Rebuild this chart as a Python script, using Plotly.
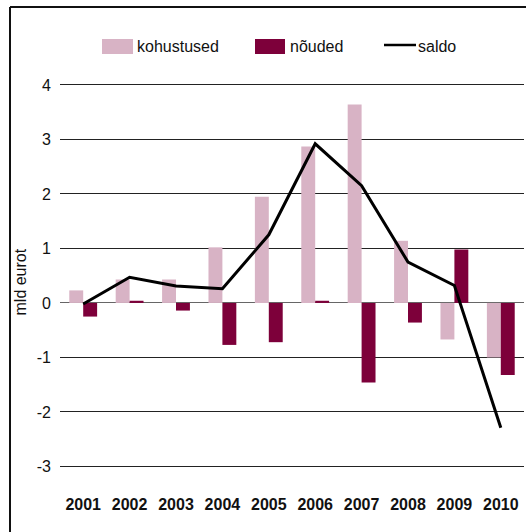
import plotly.graph_objects as go

years = ["2001", "2002", "2003", "2004", "2005", "2006", "2007", "2008", "2009", "2010"]
kohustused = [0.23, 0.43, 0.43, 1.02, 1.95, 2.87, 3.64, 1.14, -0.67, -1.00]
nouded = [-0.25, 0.04, -0.14, -0.77, -0.72, 0.04, -1.46, -0.36, 0.98, -1.32]
saldo = [-0.02, 0.47, 0.31, 0.26, 1.25, 2.92, 2.15, 0.75, 0.32, -2.29]
y_ticks = [-3, -2, -1, 0, 1, 2, 3, 4]
y_tick_text = ["-3", "-2", "-1", "0", "1", "2", "3", "4"]

W, H = 526, 532
L, R, T, B = 60, 2, 74, 41
PW, PH = W - L - R, H - T - B

def px(x):
    return (x - L) / PW

def py(y):
    return (H - B - y) / PH

C_K = "#D8B3C5"
C_N = "#7D003A"
FONT = "Liberation Sans, Arial, sans-serif"

fig = go.Figure()
fig.add_trace(go.Bar(x=years, y=kohustused, name="kohustused", marker_color=C_K, marker_line_width=0))
fig.add_trace(go.Bar(x=years, y=nouded, name="nõuded", marker_color=C_N, marker_line_width=0))
fig.add_trace(go.Scatter(x=years, y=saldo, name="saldo", mode="lines",
                         line=dict(color="black", width=3)))

shapes = []
annotations = []
# frame (left and top)
shapes.append(dict(type="line", xref="paper", yref="paper", x0=px(10), x1=px(10), y0=py(7), y1=py(540),
                   line=dict(color="#111", width=2)))
shapes.append(dict(type="line", xref="paper", yref="paper", x0=px(10), x1=px(540), y0=py(7), y1=py(7),
                   line=dict(color="#111", width=2)))
# custom legend
shapes.append(dict(type="rect", xref="paper", yref="paper", x0=px(102), x1=px(133), y0=py(39), y1=py(54),
                   fillcolor=C_K, line=dict(width=0)))
shapes.append(dict(type="rect", xref="paper", yref="paper", x0=px(255), x1=px(285), y0=py(39), y1=py(54),
                   fillcolor=C_N, line=dict(width=0)))
shapes.append(dict(type="line", xref="paper", yref="paper", x0=px(384), x1=px(416), y0=py(45), y1=py(45),
                   line=dict(color="black", width=2.5)))
for xx, txt in [(135, "kohustused"), (288, "nõuded"), (416, "saldo")]:
    annotations.append(dict(xref="paper", yref="paper", x=px(xx), y=py(47), text=txt, showarrow=False,
                            xanchor="left", yanchor="middle", font=dict(size=16, color="#111", family=FONT)))
annotations.append(dict(xref="paper", yref="paper", x=px(20), y=0.5, text="mld eurot", showarrow=False,
                        textangle=-90, xanchor="center", yanchor="middle",
                        font=dict(size=16, color="#111", family=FONT)))

fig.update_layout(
    width=W, height=H,
    margin=dict(l=L, r=R, t=T, b=B),
    paper_bgcolor="white", plot_bgcolor="white",
    barmode="group", bargap=0.4, bargroupgap=0,
    showlegend=False,
    font=dict(family=FONT, size=16, color="#111"),
    shapes=shapes, annotations=annotations,
    xaxis=dict(showgrid=False, showline=False, zeroline=False, ticks="",
               tickfont=dict(size=16, family=FONT, weight="bold"),
               ticklabelstandoff=2),
    yaxis=dict(range=[-3.45, 4.2], tickvals=y_ticks, ticktext=y_tick_text,
               showgrid=True, gridcolor="#222", gridwidth=1.4,
               zeroline=True, zerolinecolor="#666", zerolinewidth=1.2, showline=False, ticks="",
               ticklabelstandoff=8, tickfont=dict(size=16)),
)

fig.write_html("out.html", config={"displayModeBar": False},
               post_script="document.body.style.margin='0';document.body.style.overflow='hidden';")
